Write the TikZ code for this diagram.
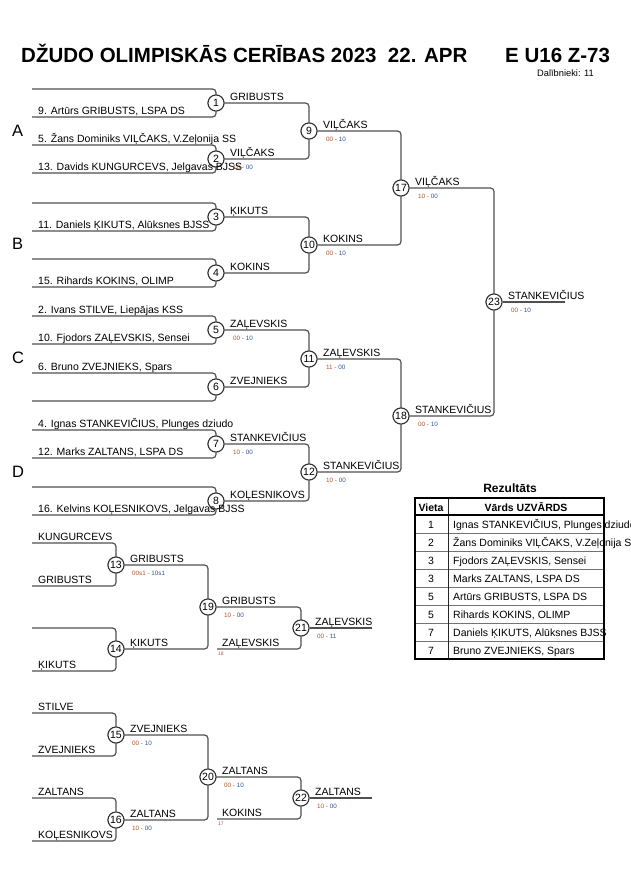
\documentclass[tikz,border=0pt]{standalone}
\usepackage{fontspec}
\setmainfont{Liberation Sans}
\definecolor{scA}{RGB}{175,85,45}
\definecolor{scB}{RGB}{55,85,150}
\definecolor{lncol}{RGB}{80,80,80}
\newcommand\scr[2]{\textcolor{scA}{#1}~\textcolor{black!60}{-}~\textcolor{scB}{#2}}
\tikzset{
 ln/.style={draw=lncol, line width=1.2pt, rounded corners=3.5pt},
 circ/.style={circle, draw=black!80, fill=white, line width=1pt, minimum size=16pt, inner sep=0pt, font=\fontsize{10.5}{12}\selectfont},
 lab/.style={anchor=base west, inner sep=0pt, font=\fontsize{10.5}{12}\selectfont},
 score/.style={anchor=base west, inner sep=0pt, font=\fontsize{6.3}{7}\selectfont},
 tiny/.style={anchor=base west, inner sep=0pt, font=\fontsize{5}{6}\selectfont, text=scA},
 pool/.style={anchor=base west, inner sep=0pt, font=\fontsize{16.5}{18}\selectfont},
 tcell/.style={anchor=base, inner sep=0pt, font=\fontsize{10.5}{12}\selectfont},
 tname/.style={anchor=base west, inner sep=0pt, font=\fontsize{10.5}{12}\selectfont},
 thead/.style={anchor=base, inner sep=0pt, font=\bfseries\fontsize{10.5}{12}\selectfont},
}
\begin{document}
\begin{tikzpicture}[x=1pt,y=-1pt]
\useasboundingbox[fill=white] (0,0) rectangle (630,891);
% title
\node[anchor=base west, inner sep=0pt, font=\bfseries\fontsize{20.5}{24}\selectfont] (title) at (21,62.5) {DŽUDO OLIMPISKĀS CERĪBAS 2023\ \ 22. APR};
\node[anchor=base west, inner sep=0pt, font=\bfseries\fontsize{20.5}{24}\selectfont] (cat) at (505,62.5) {E U16 Z-73};
\node[anchor=base west, inner sep=0pt, font=\fontsize{9.3}{10}\selectfont] (dal) at (537,76.5) {Dalībnieki: 11};
% pool letters
\node[pool] (pA) at (12,136) {A};
\node[pool] (pB) at (12,249) {B};
\node[pool] (pC) at (12,363) {C};
\node[pool] (pD) at (12,477) {D};
% ---------- main bracket circles
\node[circ] (m1) at (216,103) {1};
\node[circ] (m2) at (216,159) {2};
\node[circ] (m3) at (216,217) {3};
\node[circ] (m4) at (216,273) {4};
\node[circ] (m5) at (216,330) {5};
\node[circ] (m6) at (216,387) {6};
\node[circ] (m7) at (216,444) {7};
\node[circ] (m8) at (216,501) {8};
\node[circ] (m9) at (309,131) {9};
\node[circ] (m10) at (309,245) {10};
\node[circ] (m11) at (309,359) {11};
\node[circ] (m12) at (309,472) {12};
\node[circ] (m17) at (401,188) {17};
\node[circ] (m18) at (401,416) {18};
\node[circ] (m23) at (494,302) {23};
% input coordinates
\foreach \k/\y in {1/103,2/159,3/217,4/273,5/330,6/387,7/444,8/501}{
  \coordinate (c\k t) at (32,\y-14);
  \coordinate (c\k b) at (32,\y+14);
}
\coordinate (e23) at (565,302);
% lines
\foreach \k in {1,...,8}{
  \draw[ln] (c\k t) -| (m\k.north);
  \draw[ln] (c\k b) -| (m\k.south);
}
\draw[ln] (m1.east) -| (m9.north);
\draw[ln] (m2.east) -| (m9.south);
\draw[ln] (m3.east) -| (m10.north);
\draw[ln] (m4.east) -| (m10.south);
\draw[ln] (m5.east) -| (m11.north);
\draw[ln] (m6.east) -| (m11.south);
\draw[ln] (m7.east) -| (m12.north);
\draw[ln] (m8.east) -| (m12.south);
\draw[ln] (m9.east) -| (m17.north);
\draw[ln] (m10.east) -| (m17.south);
\draw[ln] (m11.east) -| (m18.north);
\draw[ln] (m12.east) -| (m18.south);
\draw[ln] (m17.east) -| (m23.north);
\draw[ln] (m18.east) -| (m23.south);
\draw[ln] (m23.east) -- (e23);
% redraw circles on top of lines
\foreach \k/\x/\y in {1/216/103,2/216/159,3/216/217,4/216/273,5/216/330,6/216/387,7/216/444,8/216/501,9/309/131,10/309/245,11/309/359,12/309/472,17/401/188,18/401/416,23/494/302}{
  \node[circ] (r\k) at (\x,\y) {\k};
}
% scores (under text)
\node[score] (s2) at (233,169) {\scr{10}{00}};
\node[score] (s5) at (233,340) {\scr{00}{10}};
\node[score] (s7) at (233,454) {\scr{10}{00}};
\node[score] (s9) at (326,141) {\scr{00}{10}};
\node[score] (s10) at (326,255) {\scr{00}{10}};
\node[score] (s11) at (326,369) {\scr{11}{00}};
\node[score] (s12) at (326,482) {\scr{10}{00}};
\node[score] (s17) at (418,198) {\scr{10}{00}};
\node[score] (s18) at (418,426) {\scr{00}{10}};
\node[score] (s23) at (511,312) {\scr{00}{10}};
% input names
\node[lab] (n1b) at (38,114.5) {9. Artūrs GRIBUSTS, LSPA DS};
\node[lab] (n2t) at (38,142.5) {5. Žans Dominiks VIĻČAKS, V.Zeļonija SS};
\node[lab] (n2b) at (38,170.5) {13. Davids KUNGURCEVS, Jelgavas BJSS};
\node[lab] (n3b) at (38,228.5) {11. Daniels ĶIKUTS, Alūksnes BJSS};
\node[lab] (n4b) at (38,284.5) {15. Rihards KOKINS, OLIMP};
\node[lab] (n5t) at (38,313.5) {2. Ivans STILVE, Liepājas KSS};
\node[lab] (n5b) at (38,341.5) {10. Fjodors ZAĻEVSKIS, Sensei};
\node[lab] (n6t) at (38,370.5) {6. Bruno ZVEJNIEKS, Spars};
\node[lab] (n7t) at (38,427.5) {4. Ignas STANKEVIČIUS, Plunges dziudo};
\node[lab] (n7b) at (38,455.5) {12. Marks ZALTANS, LSPA DS};
\node[lab] (n8b) at (38,512.5) {16. Kelvins KOĻESNIKOVS, Jelgavas BJSS};
% winners
\node[lab] (w1) at (230,100.5) {GRIBUSTS};
\node[lab] (w2) at (230,156.5) {VIĻČAKS};
\node[lab] (w3) at (230,214.5) {ĶIKUTS};
\node[lab] (w4) at (230,270.5) {KOKINS};
\node[lab] (w5) at (230,327.5) {ZAĻEVSKIS};
\node[lab] (w6) at (230,384.5) {ZVEJNIEKS};
\node[lab] (w7) at (230,441.5) {STANKEVIČIUS};
\node[lab] (w8) at (230,498.5) {KOĻESNIKOVS};
\node[lab] (w9) at (323,128.5) {VIĻČAKS};
\node[lab] (w10) at (323,242.5) {KOKINS};
\node[lab] (w11) at (323,356) {ZAĻEVSKIS};
\node[lab] (w12) at (323,469.5) {STANKEVIČIUS};
\node[lab] (w17) at (415,185.5) {VIĻČAKS};
\node[lab] (w18) at (415,413.5) {STANKEVIČIUS};
\node[lab] (w23) at (508,299.5) {STANKEVIČIUS};
% ---------- repechage
\node[circ] (m13) at (116,565) {13};
\node[circ] (m14) at (116,649) {14};
\node[circ] (m19) at (208,607) {19};
\node[circ] (m21) at (301,628) {21};
\node[circ] (m15) at (116,735) {15};
\node[circ] (m16) at (116,820) {16};
\node[circ] (m20) at (208,777) {20};
\node[circ] (m22) at (301,798) {22};
\coordinate (c13t) at (32,543); \coordinate (c13b) at (32,586);
\coordinate (c14t) at (32,628); \coordinate (c14b) at (32,671);
\coordinate (c15t) at (32,713); \coordinate (c15b) at (32,756);
\coordinate (c16t) at (32,798); \coordinate (c16b) at (32,841);
\coordinate (c21b) at (217,649); \coordinate (c22b) at (217,819);
\coordinate (e21) at (372,628); \coordinate (e22) at (372,798);
\foreach \k in {13,14,15,16}{
  \draw[ln] (c\k t) -| (m\k.north);
  \draw[ln] (c\k b) -| (m\k.south);
}
\draw[ln] (m13.east) -| (m19.north);
\draw[ln] (m14.east) -| (m19.south);
\draw[ln] (m19.east) -| (m21.north);
\draw[ln] (c21b) -| (m21.south);
\draw[ln] (m21.east) -- (e21);
\draw[ln] (m15.east) -| (m20.north);
\draw[ln] (m16.east) -| (m20.south);
\draw[ln] (m20.east) -| (m22.north);
\draw[ln] (c22b) -| (m22.south);
\draw[ln] (m22.east) -- (e22);
\foreach \k/\x/\y in {13/116/565,14/116/649,19/208/607,21/301/628,15/116/735,16/116/820,20/208/777,22/301/798}{
  \node[circ] (r\k) at (\x,\y) {\k};
}
\node[lab] (n13t) at (38,540.5) {KUNGURCEVS};
\node[lab] (n13b) at (38,583.5) {GRIBUSTS};
\node[lab] (n14b) at (38,668.5) {ĶIKUTS};
\node[lab] (n15t) at (38,710.5) {STILVE};
\node[lab] (n15b) at (38,753.5) {ZVEJNIEKS};
\node[lab] (n16t) at (38,795.5) {ZALTANS};
\node[lab] (n16b) at (38,838.5) {KOĻESNIKOVS};
\node[lab] (w13) at (130,562) {GRIBUSTS};
\node[score] (s13) at (132,575) {\scr{00s1}{10s1}};
\node[lab] (w14) at (130,646) {ĶIKUTS};
\node[lab] (w19) at (222,604) {GRIBUSTS};
\node[score] (s19) at (224,617) {\scr{10}{00}};
\node[lab] (n21b) at (222,646) {ZAĻEVSKIS};
\node[tiny] (t18) at (218,655) {18};
\node[lab] (w21) at (315,625) {ZAĻEVSKIS};
\node[score] (s21) at (317,638) {\scr{00}{11}};
\node[lab] (w15) at (130,732) {ZVEJNIEKS};
\node[score] (s15) at (132,745) {\scr{00}{10}};
\node[lab] (w16) at (130,817) {ZALTANS};
\node[score] (s16) at (132,830) {\scr{10}{00}};
\node[lab] (w20) at (222,774) {ZALTANS};
\node[score] (s20) at (224,787) {\scr{00}{10}};
\node[lab] (n22b) at (222,816) {KOKINS};
\node[tiny] (t17) at (218,825) {17};
\node[lab] (w22) at (315,795) {ZALTANS};
\node[score] (s22) at (317,808) {\scr{10}{00}};
% ---------- results table
\node[anchor=base, inner sep=0pt, font=\bfseries\fontsize{12}{14}\selectfont] (rez) at (510,492) {Rezultāts};
\node[thead] (h1) at (431,511) {Vieta};
\node[thead] (h2) at (526,511) {Vārds UZVĀRDS};
\foreach \i/\p/\nm in {1/1/{Ignas STANKEVIČIUS, Plunges dziudo},2/2/{Žans Dominiks VIĻČAKS, V.Zeļonija SS},3/3/{Fjodors ZAĻEVSKIS, Sensei},4/3/{Marks ZALTANS, LSPA DS},5/5/{Artūrs GRIBUSTS, LSPA DS},6/5/{Rihards KOKINS, OLIMP},7/7/{Daniels ĶIKUTS, Alūksnes BJSS},8/7/{Bruno ZVEJNIEKS, Spars}}{
  \node[tcell] (tp\i) at (431,515+18*\i-4.5) {\p};
  \node[tname] (tn\i) at (453,515+18*\i-4.5) {\nm};
}
\foreach \i in {1,...,7}{
  \draw[black!55, line width=1pt] (415,515+18*\i) -- (604,515+18*\i);
}
\draw[black!85, line width=0.9pt] (448,498) -- (448,659);
\draw[black, line width=1.3pt] (415,515) -- (604,515);
\draw[black, line width=1.6pt] (415,498) rectangle (604,659);
\end{tikzpicture}
\end{document}
